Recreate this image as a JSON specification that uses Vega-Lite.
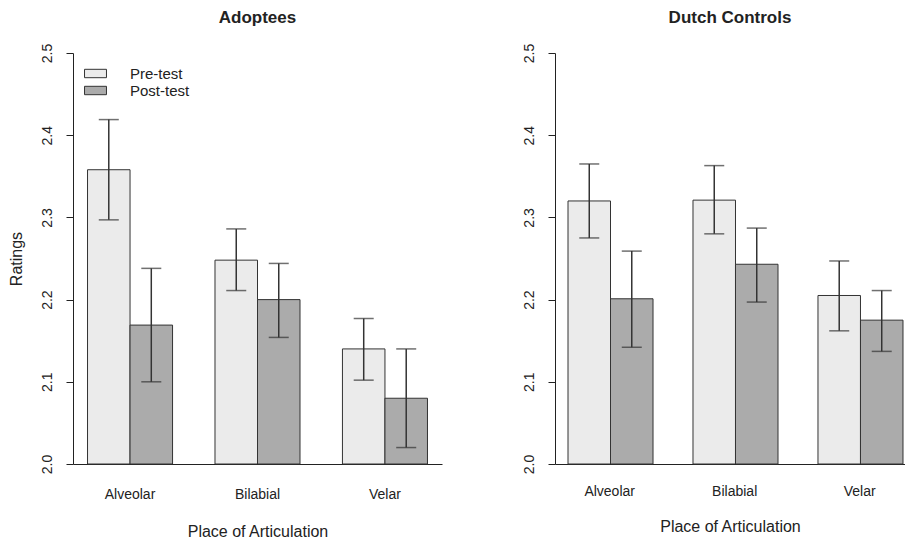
{
  "$schema": "https://vega.github.io/schema/vega-lite/v6.json",
  "padding": {"left": 8, "top": 9, "right": 0, "bottom": 0},
  "config": {
    "font": "Liberation Sans",
    "view": {"stroke": null},
    "axis": {"grid": false, "domainColor": "#222", "tickColor": "#222", "labelColor": "#222", "titleColor": "#222", "titleFontWeight": "normal"},
    "title": {"fontSize": 17, "fontWeight": "bold", "color": "#222", "anchor": "middle", "offset": 16}
  },
  "data": {"values": [
    {"panel": "Adoptees", "place": "Alveolar", "test": "Pre-test", "mean": 2.358, "lo": 2.297, "hi": 2.419},
    {"panel": "Adoptees", "place": "Alveolar", "test": "Post-test", "mean": 2.169, "lo": 2.100, "hi": 2.238},
    {"panel": "Adoptees", "place": "Bilabial", "test": "Pre-test", "mean": 2.248, "lo": 2.211, "hi": 2.286},
    {"panel": "Adoptees", "place": "Bilabial", "test": "Post-test", "mean": 2.200, "lo": 2.154, "hi": 2.244},
    {"panel": "Adoptees", "place": "Velar", "test": "Pre-test", "mean": 2.140, "lo": 2.102, "hi": 2.177},
    {"panel": "Adoptees", "place": "Velar", "test": "Post-test", "mean": 2.080, "lo": 2.020, "hi": 2.140},
    {"panel": "Dutch Controls", "place": "Alveolar", "test": "Pre-test", "mean": 2.320, "lo": 2.275, "hi": 2.365},
    {"panel": "Dutch Controls", "place": "Alveolar", "test": "Post-test", "mean": 2.201, "lo": 2.142, "hi": 2.259},
    {"panel": "Dutch Controls", "place": "Bilabial", "test": "Pre-test", "mean": 2.321, "lo": 2.280, "hi": 2.363},
    {"panel": "Dutch Controls", "place": "Bilabial", "test": "Post-test", "mean": 2.243, "lo": 2.197, "hi": 2.287},
    {"panel": "Dutch Controls", "place": "Velar", "test": "Pre-test", "mean": 2.205, "lo": 2.162, "hi": 2.247},
    {"panel": "Dutch Controls", "place": "Velar", "test": "Post-test", "mean": 2.175, "lo": 2.137, "hi": 2.211}
  ]},
  "resolve": {"legend": {"color": "independent"}},
  "spacing": 80,
  "hconcat": [
    {
      "width": 369, "height": 411,
      "title": {"text": "Adoptees"},
      "transform": [{"filter": "datum.panel === 'Adoptees'"}],
      "encoding": {
        "x": {"field": "place", "type": "nominal", "sort": ["Alveolar", "Bilabial", "Velar"],
          "scale": {"paddingInner": 0.333, "paddingOuter": 0.114},
          "axis": {"title": "Place of Articulation", "labelAngle": 0, "ticks": false, "labelPadding": 23, "labelFontSize": 14, "titleFontSize": 16, "titlePadding": 22}},
        "xOffset": {"field": "test", "type": "nominal", "sort": ["Pre-test", "Post-test"], "scale": {"paddingInner": 0, "paddingOuter": 0}}
      },
      "layer": [
        {"mark": {"type": "bar", "stroke": "#333", "strokeWidth": 1},
         "encoding": {
           "y": {"field": "mean", "type": "quantitative", "scale": {"domain": [2, 2.5], "zero": false, "nice": false},
             "axis": {"title": "Ratings", "values": [2, 2.1, 2.2, 2.3, 2.4, 2.5], "format": ".1f", "labelAngle": -90, "labelAlign": "center", "labelBaseline": "bottom", "tickSize": 7, "labelPadding": 12, "labelFontSize": 14, "titleFontSize": 16, "titlePadding": 16}},
           "y2": {"datum": 2},
           "color": {"field": "test", "type": "nominal", "sort": ["Pre-test", "Post-test"],
             "scale": {"domain": ["Pre-test", "Post-test"], "range": ["#ebebeb", "#ababab"]},
             "legend": {"title": null, "orient": "none", "legendX": 15, "legendY": 13, "symbolType": "M-1.83,-0.7H1.83V0.7H-1.83Z", "symbolSize": 144, "symbolStrokeColor": "#333", "symbolStrokeWidth": 1, "symbolOpacity": 1, "labelFontSize": 15, "labelOffset": 27, "rowPadding": 1, "labelColor": "#222"}}
         }},
        {"mark": {"type": "rule", "color": "#333", "strokeWidth": 1.5},
         "encoding": {"y": {"field": "lo", "type": "quantitative"}, "y2": {"field": "hi"}}},
        {"mark": {"type": "tick", "color": "#333", "thickness": 1.5, "size": 20},
         "encoding": {"y": {"field": "lo", "type": "quantitative"}}},
        {"mark": {"type": "tick", "color": "#333", "thickness": 1.5, "size": 20},
         "encoding": {"y": {"field": "hi", "type": "quantitative"}}}
      ]
    },
    {
      "width": 350, "height": 411,
      "title": {"text": "Dutch Controls"},
      "transform": [{"filter": "datum.panel === 'Dutch Controls'"}],
      "encoding": {
        "x": {"field": "place", "type": "nominal", "sort": ["Alveolar", "Bilabial", "Velar"],
          "scale": {"paddingInner": 0.333, "paddingOuter": 0.0667, "align": 0.78},
          "axis": {"title": "Place of Articulation", "labelAngle": 0, "ticks": false, "labelPadding": 20, "labelFontSize": 14, "titleFontSize": 16, "titlePadding": 20}},
        "xOffset": {"field": "test", "type": "nominal", "sort": ["Pre-test", "Post-test"], "scale": {"paddingInner": 0, "paddingOuter": 0}}
      },
      "layer": [
        {"mark": {"type": "bar", "stroke": "#333", "strokeWidth": 1},
         "encoding": {
           "y": {"field": "mean", "type": "quantitative", "scale": {"domain": [2, 2.5], "zero": false, "nice": false},
             "axis": {"title": null, "values": [2, 2.1, 2.2, 2.3, 2.4, 2.5], "format": ".1f", "labelAngle": -90, "labelAlign": "center", "labelBaseline": "bottom", "tickSize": 7, "labelPadding": 12, "labelFontSize": 14}},
           "y2": {"datum": 2},
           "color": {"field": "test", "type": "nominal", "sort": ["Pre-test", "Post-test"],
             "scale": {"domain": ["Pre-test", "Post-test"], "range": ["#ebebeb", "#ababab"]},
             "legend": null}
         }},
        {"mark": {"type": "rule", "color": "#333", "strokeWidth": 1.5},
         "encoding": {"y": {"field": "lo", "type": "quantitative"}, "y2": {"field": "hi"}}},
        {"mark": {"type": "tick", "color": "#333", "thickness": 1.5, "size": 20},
         "encoding": {"y": {"field": "lo", "type": "quantitative"}}},
        {"mark": {"type": "tick", "color": "#333", "thickness": 1.5, "size": 20},
         "encoding": {"y": {"field": "hi", "type": "quantitative"}}}
      ]
    }
  ]
}
